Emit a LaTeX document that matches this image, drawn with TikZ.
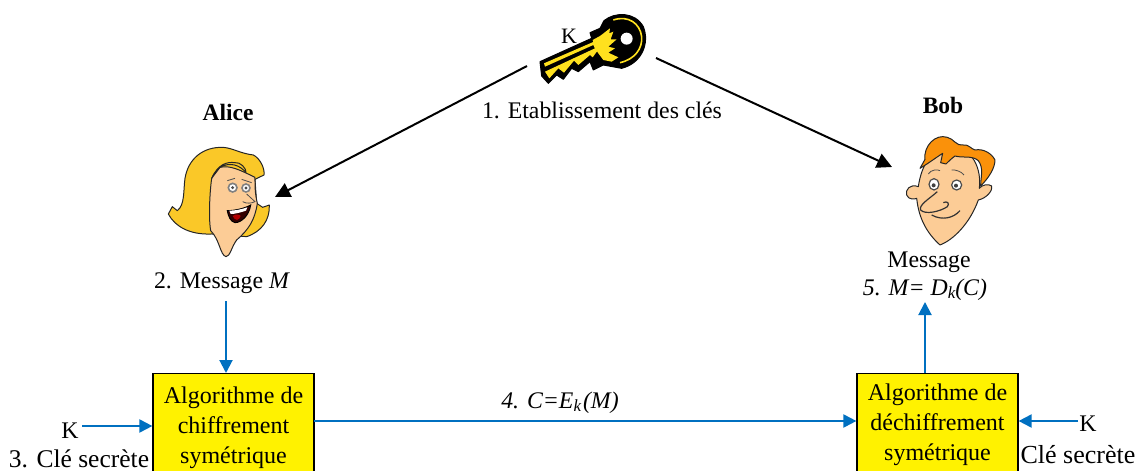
\documentclass[tikz,border=0pt]{standalone}
\usepackage{fontspec}
\setmainfont{Liberation Serif}
\usetikzlibrary{arrows.meta}
\definecolor{flow}{RGB}{0,112,192}
\definecolor{keyyellow}{RGB}{255,225,30}
\definecolor{hairA}{RGB}{250,200,40}
\definecolor{skin}{RGB}{252,204,150}
\definecolor{hairB}{RGB}{250,145,10}
\tikzset{
  lab/.style={inner sep=0pt,font=\fontsize{23.8}{30}\selectfont,align=center},
  algo/.style={draw=black,line width=1.2pt,fill=yellow,inner sep=0pt,anchor=north,minimum width=161pt,
     font=\fontsize{24}{30}\selectfont,align=center},
  blk/.style={draw=black,line width=2pt,-{Triangle[length=15pt,width=15pt]}},
  blu/.style={draw=flow,line width=2pt,-{Triangle[length=13pt,width=13pt]}},
  outl/.style={draw=black!85,line width=1pt,line join=round},
}
\begin{document}
\begin{tikzpicture}[x=1pt,y=-1pt]
\useasboundingbox (0,0) rectangle (1136,471);
\clip (0,0) rectangle (1136,471);
% key
\begin{scope}[shift={(500,0)},x=0.3333pt,y=-0.3333pt]
\fill[black,line join=round,draw=black,line width=1pt]
 (120,185)--(275,115)--(270,98)--(300,85)--(312,62) .. controls (345,35) and (405,35) .. (430,80)
 .. controls (450,130) and (425,190) .. (365,205) -- (310,195)--(280,210)--(270,185)--(235,215)--(215,205)--(190,238)--(170,225)--(145,250)--(125,228)--cycle;
\fill[keyyellow] (132,190)--(282,125)--(290,148)--(300,142)--(278,172)--(270,165)--(235,195)--(222,182)--(192,218)--(175,205)--(148,235)--(135,215)--(210,180)--(285,145)--(280,135)--(135,200)--cycle;
\fill[keyyellow] (278,120)--(300,108)--(330,85)--(328,100)--(340,95)--(332,118)--(350,118)--(325,140)--(345,145)--(325,158)--(355,172)--(335,185)--(310,180)--(295,160)--(285,145)--cycle;
\draw[keyyellow,line width=1.6pt] (340,60) .. controls (385,45) and (420,70) .. (425,110) .. controls (428,145) and (405,178) .. (360,188);
\fill[white] (380,116) circle[radius=18];
\end{scope}
% Alice
\begin{scope}[shift={(140,90)},x=0.3333pt,y=-0.3333pt]
\draw[outl,fill=hairA] (85,372)--(97,350)--(112,362) .. controls (135,345) and (130,300) .. (135,265)
 .. controls (145,205) and (190,170) .. (250,172) .. controls (280,175) and (300,190) .. (340,195)
 .. controls (360,205) and (375,235) .. (372,255) -- (345,268) -- (350,340) -- (368,352)--(388,345)
 .. controls (390,390) and (365,425) .. (320,440) -- (215,432) .. controls (150,435) and (105,410) .. (85,372) -- cycle;
\draw[outl,fill=skin] (240,232) .. controls (270,225) and (300,240) .. (345,262) .. controls (345,290) and (345,310) .. (352,340)
 .. controls (345,390) and (325,420) .. (290,450) .. controls (275,470) and (270,500) .. (258,500)
 .. controls (240,495) and (240,450) .. (212,422) .. controls (205,380) and (210,300) .. (215,265) .. controls (222,250) and (230,240) .. (240,232) -- cycle;
\draw[outl,fill=hairA] (240,232) .. controls (270,215) and (300,225) .. (318,248) .. controls (320,235) and (300,215) .. (285,218) .. controls (260,215) and (235,222) .. (215,265) -- cycle;
\draw[black!70,line width=.8pt] (262,272)--(285,265) (305,268)--(335,278);
\draw[gray,fill=white,line width=1.6pt] (278,293) circle[radius=13] (318,294) circle[radius=12];
\fill[black!70] (278,293) circle[radius=5] (318,294) circle[radius=5];
\draw[black!70,line width=.8pt] (320,312)--(345,335) .. controls (335,340) and (320,342) .. (308,335);
\draw[black,line width=1pt,fill=black!80!red] (262,362) .. controls (285,362) and (315,355) .. (332,345) .. controls (328,375) and (305,398) .. (285,398) .. controls (272,395) and (265,380) .. (262,362) -- cycle;
\fill[white] (268,362) .. controls (285,362) and (305,358) .. (322,352) -- (318,362) .. controls (300,368) and (285,372) .. (272,372) -- cycle;
\fill[red!70!black] (278,378) .. controls (290,370) and (300,375) .. (302,378) .. controls (298,392) and (285,395) .. (278,378) -- cycle;
\end{scope}
% Bob
\begin{scope}[shift={(860,90)},x=0.3333pt,y=-0.3333pt]
\draw[outl,fill=skin] (175,290) .. controls (150,280) and (135,300) .. (140,315) .. controls (145,330) and (165,328) .. (170,325)
 .. controls (175,370) and (190,420) .. (240,465) .. controls (280,450) and (330,400) .. (355,330) .. controls (380,325) and (400,300) .. (395,288) .. controls (385,280) and (365,285) .. (358,295)
 .. controls (365,240) and (340,170) .. (270,170) .. controls (220,170) and (185,220) .. (175,290) -- cycle;
\draw[outl,fill=hairB] (180,235) -- (195,208) .. controls (190,170) and (225,130) .. (262,142)
 .. controls (280,145) and (290,170) .. (310,165) .. controls (325,162) and (335,178) .. (345,180)
 .. controls (370,175) and (395,190) .. (405,210) .. controls (405,235) and (385,265) .. (362,288)
 .. controls (362,260) and (372,235) .. (355,212) .. controls (335,195) and (310,205) .. (285,198)
 .. controls (275,205) and (265,215) .. (258,222) -- (242,218) -- (248,190) .. controls (225,205) and (205,220) .. (180,235) -- cycle;
\draw[black!70,line width=.8pt] (205,252) .. controls (212,238) and (235,238) .. (240,242) (275,240) .. controls (285,238) and (305,245) .. (312,255);
\draw[black!70,line width=1.2pt,fill=white] (222,283) ellipse[x radius=15,y radius=17] (290,285) ellipse[x radius=15,y radius=15];
\fill[black!75] (221,286) circle[radius=6] (288,287) circle[radius=6];
\draw[black!80,line width=1.2pt] (232,305) .. controls (210,325) and (175,345) .. (182,360) .. controls (195,375) and (240,365) .. (262,350) .. controls (270,340) and (262,332) .. (250,338);
\draw[black!80,line width=1.2pt] (215,375) .. controls (245,392) and (280,385) .. (300,362);
\end{scope}
% ends of the black connectors
\coordinate (keyL) at (527,66);
\coordinate (keyR) at (656,58);
\coordinate (aliceIn) at (275,197);
\coordinate (bobIn) at (892,167);
\draw[blk] (keyL) -- (aliceIn);
\draw[blk] (keyR) -- (bobIn);
% texts
\node[lab,font=\fontsize{22}{24}\selectfont] (kk) at (569,36) {K};
\node[lab] (etab) at (602,110) {1. Etablissement des clés};
\node[lab,font=\fontsize{23.5}{30}\bfseries\selectfont] (alicet) at (228,112) {Alice};
\node[lab,font=\fontsize{23.5}{30}\bfseries\selectfont] (bobt) at (943,105) {Bob};
\node[lab] (msg) at (222,283) {2. Message \textit{M}};
\node[lab] (msgb) at (929,262) {Message};
\node[lab] (dec) at (925,290) {\textit{5. M= D\raisebox{-3pt}{\fontsize{17}{17}\selectfont k}(C)}};
% boxes
\node[algo,minimum height=108pt] (enc) at (233.5,373) {Algorithme de\\chiffrement\\symétrique};
\node[algo,minimum height=102pt] (decb) at (937.5,373) {Algorithme de\\déchiffrement\\symétrique};
% key inputs
\node[lab] (k1) at (70,431) {K};
\node[lab,font=\fontsize{25.5}{30}\selectfont] (cs1) at (79,459) {3. Clé secrète};
\node[lab] (k2) at (1088,424) {K};
\node[lab,font=\fontsize{26}{30}\selectfont] (cs2) at (1078,455) {Clé secrète};
\node[lab] (cipher) at (560,403) {\textit{4. C=E\raisebox{-3pt}{\fontsize{17}{17}\selectfont k\hspace{2pt}}(M)}};
% flows
\coordinate (msgo) at (226,301);
\coordinate (k1o) at (82,426);
\coordinate (eo) at (314,421);
\coordinate (k2o) at (1078,421);
\coordinate (upo) at (925,373);
\coordinate (upe) at (925,302);
\draw[blu] (msgo) -- (msgo |- enc.north);
\draw[blu] (k1o) -- (k1o -| enc.west);
\draw[blu] (eo) -- (eo -| decb.west);
\draw[blu] (k2o) -- (k2o -| decb.east);
\draw[blu] (upo) -- (upe);
\end{tikzpicture}
\end{document}
